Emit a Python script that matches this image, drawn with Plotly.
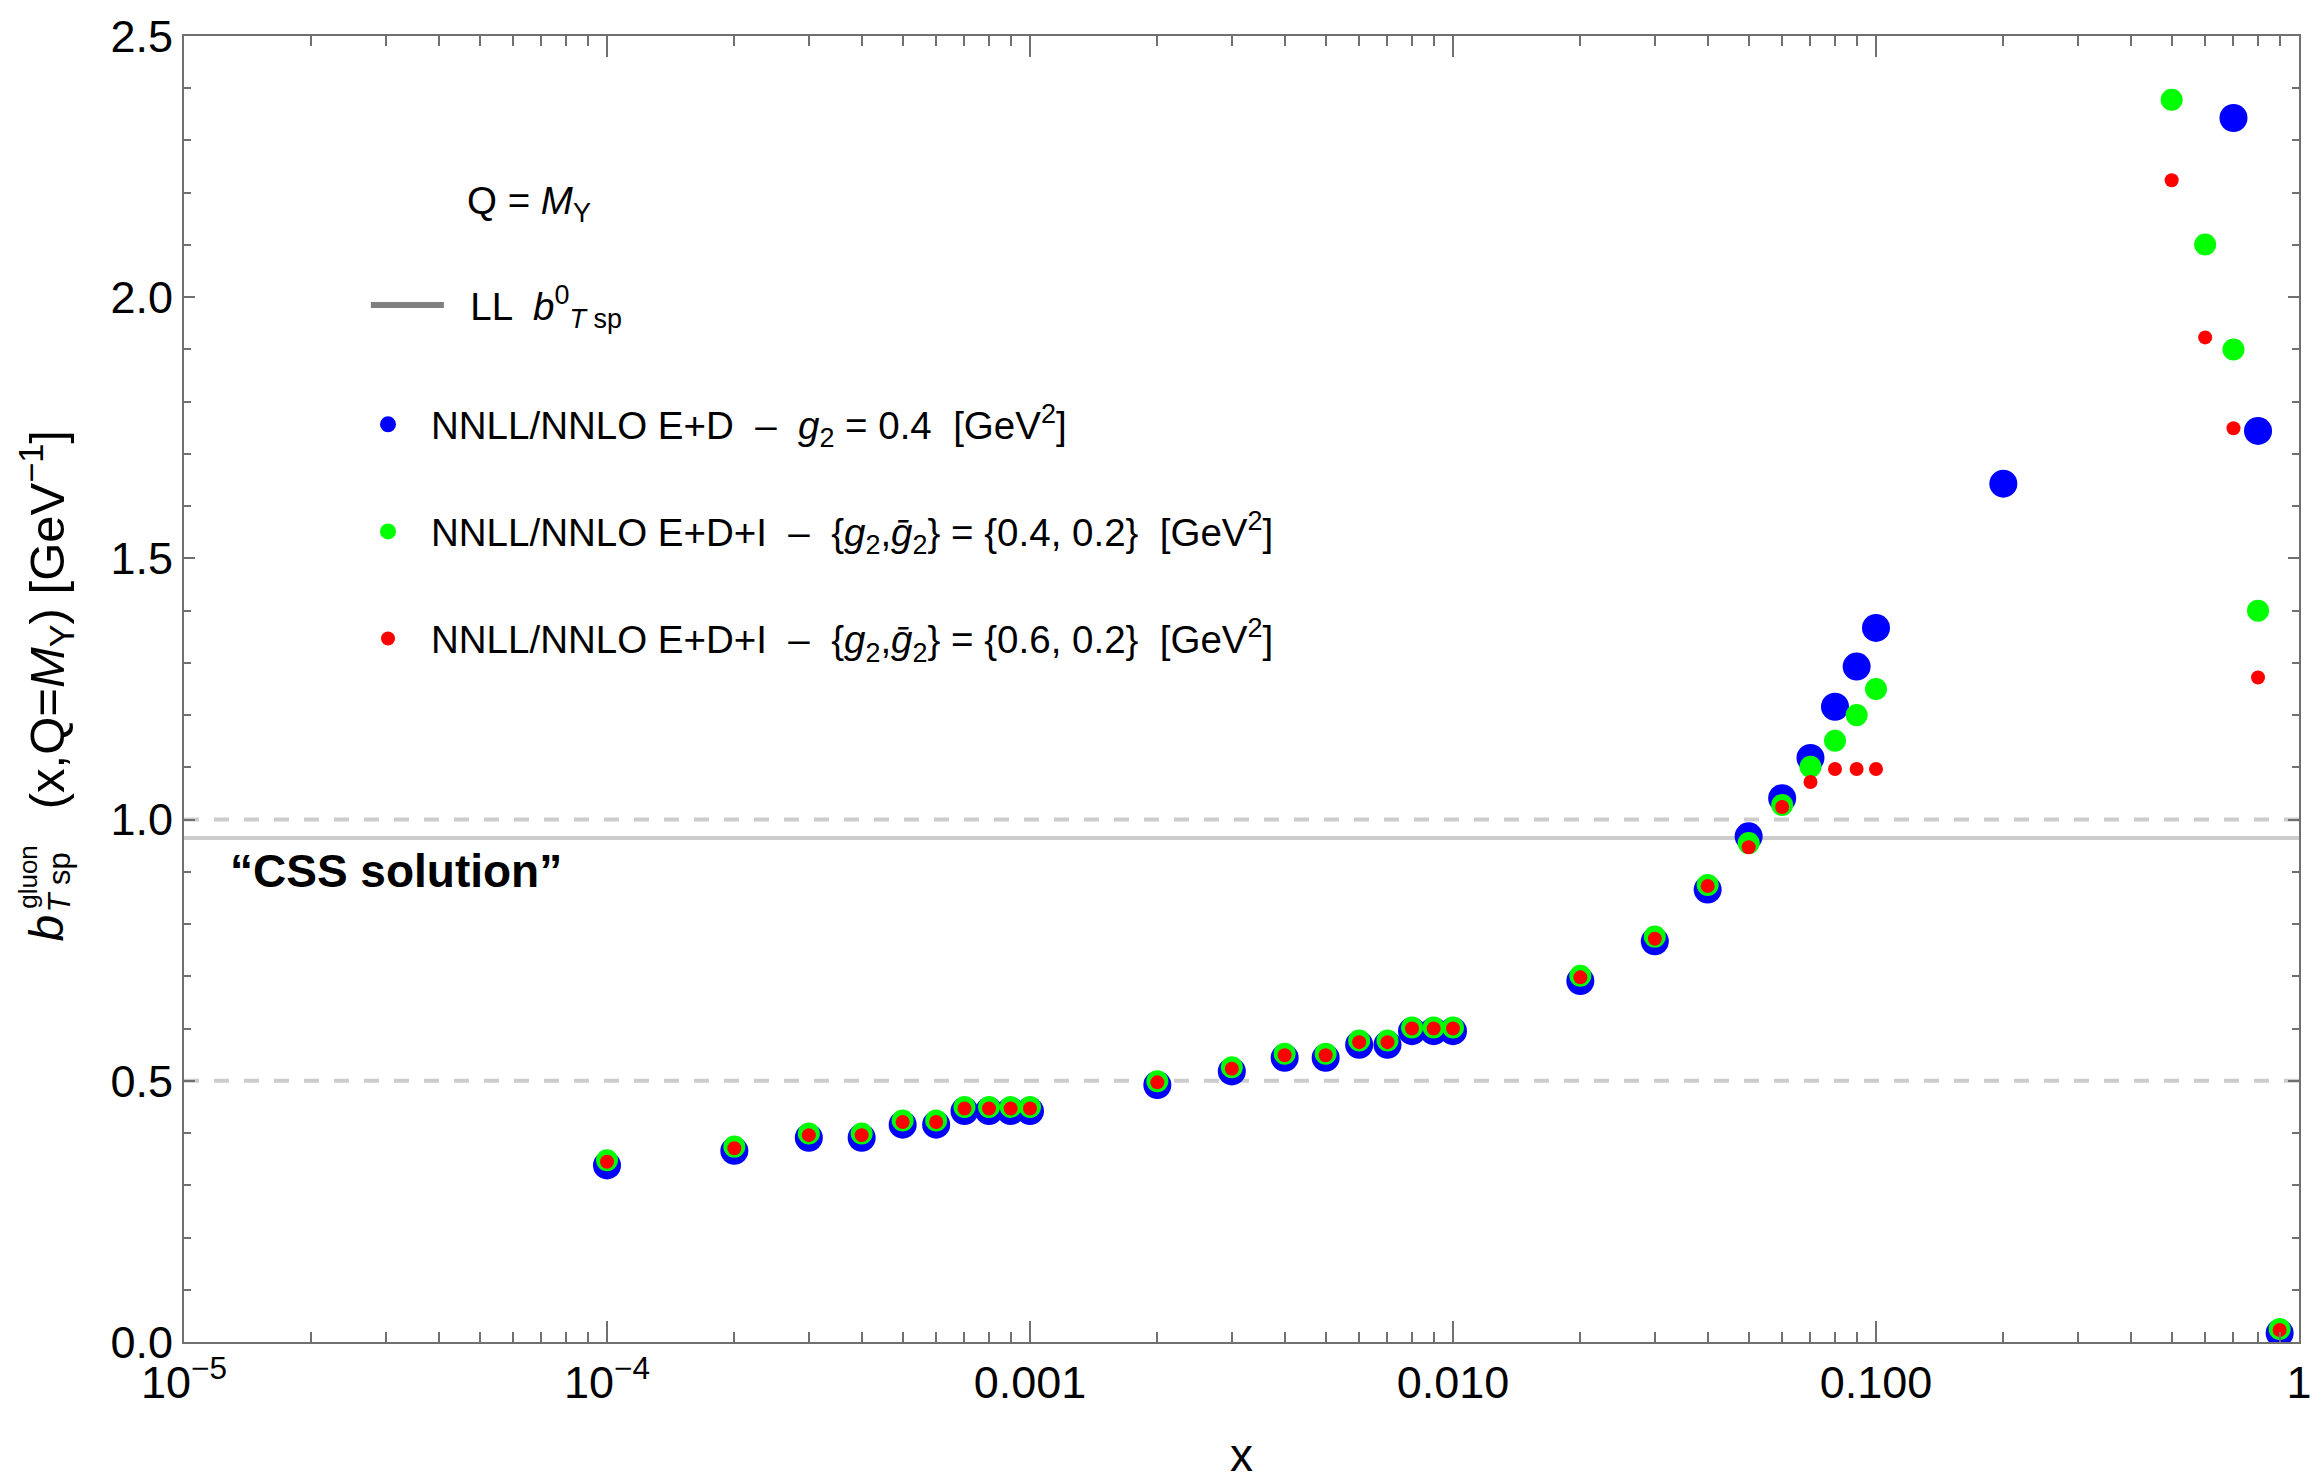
import plotly.graph_objects as go

# ---------------- data ----------------
x_blue = [0.0001, 0.0002, 0.0003, 0.0004, 0.0005, 0.0006, 0.0007, 0.0008, 0.0009, 0.001,
          0.002, 0.003, 0.004, 0.005, 0.006, 0.007, 0.008, 0.009, 0.01,
          0.02, 0.03, 0.04, 0.05, 0.06, 0.07, 0.08, 0.09, 0.1,
          0.2, 0.7, 0.8, 0.9]
y_blue = [0.338, 0.366, 0.391, 0.391, 0.416, 0.416, 0.442, 0.442, 0.442, 0.442,
          0.492, 0.518, 0.544, 0.544, 0.569, 0.569, 0.595, 0.595, 0.595,
          0.691, 0.767, 0.866, 0.968, 1.041, 1.118, 1.216, 1.293, 1.367,
          1.643, 2.343, 1.744, 0.017]

x_green = [0.0001, 0.0002, 0.0003, 0.0004, 0.0005, 0.0006, 0.0007, 0.0008, 0.0009, 0.001,
           0.002, 0.003, 0.004, 0.005, 0.006, 0.007, 0.008, 0.009, 0.01,
           0.02, 0.03, 0.04, 0.05, 0.06, 0.07, 0.08, 0.09, 0.1,
           0.5, 0.6, 0.7, 0.8, 0.9]
y_green = [0.348, 0.374, 0.399, 0.399, 0.424, 0.424, 0.450, 0.450, 0.450, 0.450,
           0.499, 0.526, 0.552, 0.552, 0.577, 0.577, 0.602, 0.602, 0.602,
           0.701, 0.776, 0.875, 0.955, 1.028, 1.101, 1.151, 1.200, 1.250,
           2.378, 2.101, 1.900, 1.400, 0.025]

x_red = [0.0001, 0.0002, 0.0003, 0.0004, 0.0005, 0.0006, 0.0007, 0.0008, 0.0009, 0.001,
         0.002, 0.003, 0.004, 0.005, 0.006, 0.007, 0.008, 0.009, 0.01,
         0.02, 0.03, 0.04, 0.05, 0.06, 0.07, 0.08, 0.09, 0.1,
         0.5, 0.6, 0.7, 0.8, 0.9]
y_red = [0.345, 0.371, 0.396, 0.396, 0.421, 0.421, 0.447, 0.447, 0.447, 0.447,
         0.497, 0.523, 0.549, 0.549, 0.574, 0.574, 0.600, 0.600, 0.600,
         0.698, 0.772, 0.873, 0.947, 1.024, 1.072, 1.097, 1.097, 1.097,
         2.224, 1.923, 1.749, 1.272, 0.023]

ll_bt0 = 0.965            # LL b_T^0 level
dashed_levels = [0.5, 1.0]

x_tickvals = [1e-5, 1e-4, 1e-3, 1e-2, 1e-1, 1]
x_ticktext = ["10<sup>\u22125</sup>", "10<sup>\u22124</sup>", "0.001", "0.010", "0.100", "1"]
y_tickvals = [0.0, 0.5, 1.0, 1.5, 2.0, 2.5]
y_ticktext = ["0.0", "0.5", "1.0", "1.5", "2.0", "2.5"]

name_ll = "\u00a0\u00a0LL  <i>b</i><sup>0</sup><sub><i>T</i> sp</sub>"
name_blue = "NNLL/NNLO E+D  \u2013  <i>g</i><sub>2</sub> = 0.4  [GeV<sup>2</sup>]"
name_green = "NNLL/NNLO E+D+I  \u2013  {<i>g</i><sub>2</sub>,<i>\u1e21</i><sub>2</sub>} = {0.4, 0.2}  [GeV<sup>2</sup>]"
name_red = "NNLL/NNLO E+D+I  \u2013  {<i>g</i><sub>2</sub>,<i>\u1e21</i><sub>2</sub>} = {0.6, 0.2}  [GeV<sup>2</sup>]"

# ---------------- layout geometry ----------------
W, H = 2323, 1479
ML, MR, MT, MB = 184, 11, 28, 137
PW, PH = W - ML - MR, H - MT - MB


def pxx(p):
    return (p - ML) / PW


def pxy(p):
    return (H - MB - p) / PH


FONT = "Liberation Sans, Arial, sans-serif"
AXC = "#707070"
LEGFONT = 38.5

fig = go.Figure()

fig.add_trace(go.Scatter(x=[None], y=[None], mode="lines", name=name_ll,
                         line=dict(color="#808080", width=6),
                         legend="legend2", hoverinfo="skip"))
fig.add_trace(go.Scatter(x=x_blue, y=y_blue, mode="markers", name=name_blue,
                         marker=dict(color="#0000ff", size=28),
                         legendgroup="b", legendrank=2))
fig.add_trace(go.Scatter(x=x_green, y=y_green, mode="markers", name=name_green,
                         marker=dict(color="#00ff00", size=22),
                         legendgroup="g", legendrank=3))
fig.add_trace(go.Scatter(x=x_red, y=y_red, mode="markers", name=name_red,
                         marker=dict(color="#ff0000", size=14),
                         legendgroup="r", legendrank=4))

shapes = []
for lv in dashed_levels:
    shapes.append(dict(type="line", xref="paper", x0=0, x1=1, yref="y", y0=lv, y1=lv,
                       line=dict(color="#cccccc", width=4, dash="15px,15px"), layer="below"))
shapes.append(dict(type="line", xref="paper", x0=0, x1=1, yref="y", y0=ll_bt0, y1=ll_bt0,
                   line=dict(color="#cccccc", width=4), layer="below"))

# minor ticks for log axis
x_minor = [m * 10 ** e for e in range(-5, 0) for m in range(2, 10)]

annotations = [
    dict(text="Q = <i>M</i><sub>Y</sub>", x=pxx(467), y=pxy(197), xref="paper", yref="paper",
         xanchor="left", yanchor="middle", showarrow=False,
         font=dict(size=LEGFONT, color="black", family=FONT)),
    dict(text="\u201cCSS solution\u201d", x=pxx(228), y=pxy(868), xref="paper", yref="paper",
         xanchor="left", yanchor="middle", showarrow=False,
         font=dict(size=46, color="black", family=FONT, weight="bold")),
    dict(text="x", x=0.5, y=pxy(1456), xref="paper", yref="paper", height=36,
         xanchor="center", yanchor="middle", showarrow=False,
         font=dict(size=46, color="black", family=FONT)),
    # y-axis title pieces (rotated)
    dict(text="<i>b</i>", x=pxx(46), y=pxy(925), xref="paper", yref="paper", textangle=-90,
         xanchor="center", yanchor="middle", showarrow=False,
         font=dict(size=48, color="black", family=FONT)),
    dict(text="gluon", x=pxx(27), y=pxy(874), xref="paper", yref="paper", textangle=-90,
         xanchor="center", yanchor="middle", showarrow=False,
         font=dict(size=26, color="black", family=FONT)),
    dict(text="<i>T</i> sp", x=pxx(59), y=pxy(880), xref="paper", yref="paper", textangle=-90,
         xanchor="center", yanchor="middle", showarrow=False,
         font=dict(size=31, color="black", family=FONT)),
    dict(text="(x,Q=<i>M</i><sub>Y</sub>) [GeV<sup>\u22121</sup>]", x=pxx(46), y=pxy(615),
         xref="paper", yref="paper", textangle=-90,
         xanchor="center", yanchor="middle", showarrow=False,
         font=dict(size=49, color="black", family=FONT)),
]

fig.update_layout(
    width=W, height=H,
    margin=dict(l=ML, r=MR, t=MT, b=MB, pad=0),
    paper_bgcolor="white", plot_bgcolor="white",
    font=dict(family=FONT, color="black"),
    shapes=shapes,
    annotations=annotations,
    showlegend=True,
    legend=dict(x=pxx(346), y=pxy(387), xanchor="left", yanchor="top",
                bgcolor="rgba(0,0,0,0)", borderwidth=0,
                font=dict(size=LEGFONT, color="black", family=FONT),
                itemwidth=76, tracegroupgap=54, traceorder="grouped",
                itemsizing="trace"),
    legend2=dict(x=pxx(367), y=pxy(267), xanchor="left", yanchor="top",
                 bgcolor="rgba(0,0,0,0)", borderwidth=0,
                 font=dict(size=LEGFONT, color="black", family=FONT),
                 itemwidth=73, itemsizing="trace"),
    xaxis=dict(type="log", range=[-5, 0], showgrid=False, zeroline=False,
               showline=True, linecolor=AXC, linewidth=2, mirror="allticks",
               ticks="inside", ticklen=21, tickwidth=1.5, tickcolor=AXC,
               tickvals=x_tickvals, ticktext=x_ticktext,
               tickfont=dict(size=45, color="black", family=FONT),
               minor=dict(tickvals=x_minor, ticks="inside", ticklen=10, tickwidth=1.5,
                          tickcolor=AXC, showgrid=False)),
    yaxis=dict(range=[0, 2.5], showgrid=False, zeroline=False,
               showline=True, linecolor=AXC, linewidth=2, mirror="allticks",
               ticks="inside", ticklen=11, tickwidth=1.5, tickcolor=AXC,
               tickvals=y_tickvals, ticktext=y_ticktext,
               tickfont=dict(size=45, color="black", family=FONT),
               minor=dict(dtick=0.1, ticks="inside", ticklen=7, tickwidth=1.5,
                          tickcolor=AXC, showgrid=False)),
)

fig.write_html("out.html", post_script="document.body.style.margin='0';")
